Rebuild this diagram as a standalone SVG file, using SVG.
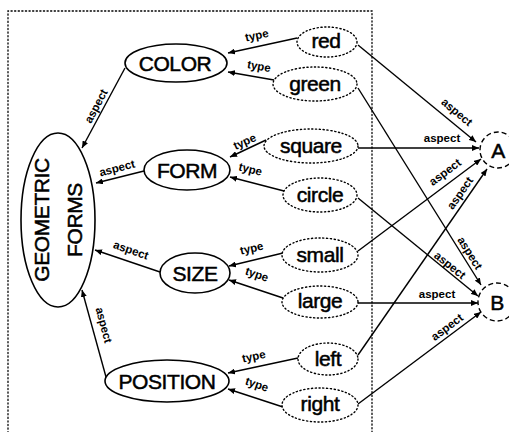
<svg xmlns="http://www.w3.org/2000/svg" width="509" height="432" viewBox="0 0 509 432">
  <defs>
    <marker id="arr" markerUnits="userSpaceOnUse" markerWidth="7" markerHeight="6" refX="7" refY="3" orient="auto">
      <path d="M0,0 L7,3 L0,6 z" fill="#000"/>
    </marker>
    <style>
      .cat { fill: #fff; stroke: #000; stroke-width: 1.6; }
      .val { fill: #fff; stroke: #000; stroke-width: 1.4; stroke-dasharray: 1.2 2.6; stroke-linecap: round; }
      .obj { fill: #fff; stroke: #000; stroke-width: 1.4; stroke-dasharray: 5 3; }
      .edge { stroke: #000; stroke-width: 1.4; fill: none; marker-end: url(#arr); }
      .frame { fill: none; stroke: #000; stroke-width: 1.3; stroke-dasharray: 1.2 2.4; stroke-linecap: round; }
      .lbl { font-family: "Liberation Sans", Arial, sans-serif; font-size: 21px; fill: #000; stroke: #000; stroke-width: 0.5; letter-spacing: -0.4px; text-anchor: middle; }
      .tiny { font-family: "Liberation Sans", Arial, sans-serif; font-size: 11.5px; font-weight: bold; fill: #000; text-anchor: middle; }
    </style>
  </defs>

  <rect width="509" height="432" fill="#fff"/>

  <!-- dotted frame around the concept hierarchy -->
  <path class="frame" d="M8,440 L8,11 L372,11 L372,440"/>

  <g id="connectors">
    <!-- type links: value -> category -->
    <line class="edge" x1="297" y1="38" x2="228" y2="53"/>
    <line class="edge" x1="274" y1="80" x2="228" y2="72"/>
    <line class="edge" x1="266" y1="140" x2="230" y2="157"/>
    <line class="edge" x1="284" y1="191" x2="230" y2="177"/>
    <line class="edge" x1="283" y1="253" x2="229" y2="266"/>
    <line class="edge" x1="283" y1="298" x2="229" y2="280"/>
    <line class="edge" x1="298" y1="358" x2="228" y2="373"/>
    <line class="edge" x1="283" y1="407" x2="228" y2="389"/>
    <!-- aspect links: category -> geometric forms -->
    <line class="edge" x1="125" y1="68" x2="82" y2="148"/>
    <line class="edge" x1="144" y1="171" x2="96" y2="183"/>
    <line class="edge" x1="160" y1="272" x2="95" y2="250"/>
    <line class="edge" x1="106" y1="377" x2="82" y2="290"/>
    <!-- aspect links: value -> object -->
    <line class="edge" x1="358" y1="45" x2="476" y2="142"/>
    <line class="edge" x1="358" y1="88" x2="481" y2="285"/>
    <line class="edge" x1="358" y1="148" x2="479" y2="148"/>
    <line class="edge" x1="358" y1="198" x2="478" y2="296"/>
    <line class="edge" x1="358" y1="251" x2="481" y2="159"/>
    <line class="edge" x1="358" y1="303" x2="478" y2="303"/>
    <line class="edge" x1="358" y1="355" x2="487" y2="169"/>
    <line class="edge" x1="358" y1="404" x2="481" y2="312"/>

    <!-- link labels -->
    <g class="tiny">
      <text transform="translate(258,41) rotate(-12)" dy="-2">type</text>
      <text transform="translate(258,72) rotate(10)" dy="-2">type</text>
      <text transform="translate(247,147) rotate(-24)" dy="-2">type</text>
      <text transform="translate(249,175) rotate(14)" dy="-2">type</text>
      <text transform="translate(253,254) rotate(-13)" dy="-2">type</text>
      <text transform="translate(255,280) rotate(19)" dy="-2">type</text>
      <text transform="translate(255,362) rotate(-12)" dy="-2">type</text>
      <text transform="translate(255,390) rotate(19)" dy="-2">type</text>

      <text transform="translate(96,106) rotate(-62)" dy="4">aspect</text>
      <text transform="translate(117,168) rotate(-15)" dy="4">aspect</text>
      <text transform="translate(131,250) rotate(19)" dy="4">aspect</text>
      <text transform="translate(104,325) rotate(75)" dy="4">aspect</text>

      <text transform="translate(457,112) rotate(40)" dy="4">aspect</text>
      <text transform="translate(442,138)" dy="4">aspect</text>
      <text transform="translate(445,172) rotate(-37)" dy="4">aspect</text>
      <text transform="translate(460,193) rotate(-55)" dy="4">aspect</text>
      <text transform="translate(470,253) rotate(58)" dy="4">aspect</text>
      <text transform="translate(450,265) rotate(39)" dy="4">aspect</text>
      <text transform="translate(437,294)" dy="4">aspect</text>
      <text transform="translate(447,327) rotate(-37)" dy="4">aspect</text>
    </g>
  </g>

  <g id="geometric-forms">
    <ellipse class="cat" cx="58" cy="220" rx="37" ry="87"/>
    <text class="lbl" transform="translate(49,220) rotate(-90)">GEOMETRIC</text>
    <text class="lbl" transform="translate(82,220) rotate(-90)">FORMS</text>
  </g>

  <g id="color">
    <ellipse class="cat" cx="176" cy="63" rx="51" ry="19"/>
    <text class="lbl" x="175" y="71">COLOR</text>
  </g>
  <g id="form">
    <ellipse class="cat" cx="187" cy="170" rx="43" ry="20"/>
    <text class="lbl" x="187" y="178">FORM</text>
  </g>
  <g id="size">
    <ellipse class="cat" cx="195" cy="273" rx="35" ry="20"/>
    <text class="lbl" x="195" y="281">SIZE</text>
  </g>
  <g id="position">
    <ellipse class="cat" cx="167" cy="381" rx="62" ry="21"/>
    <text class="lbl" x="167" y="389">POSITION</text>
  </g>

  <g id="red">
    <ellipse class="val" cx="327" cy="42" rx="30" ry="15"/>
    <text class="lbl" x="326" y="48">red</text>
  </g>
  <g id="green">
    <ellipse class="val" cx="315" cy="84" rx="42" ry="17"/>
    <text class="lbl" x="315" y="91">green</text>
  </g>
  <g id="square">
    <ellipse class="val" cx="311" cy="146" rx="47" ry="17"/>
    <text class="lbl" x="311" y="153">square</text>
  </g>
  <g id="circle">
    <ellipse class="val" cx="320" cy="195" rx="37" ry="17"/>
    <text class="lbl" x="320" y="202">circle</text>
  </g>
  <g id="small">
    <ellipse class="val" cx="320" cy="255" rx="38" ry="17"/>
    <text class="lbl" x="320" y="262">small</text>
  </g>
  <g id="large">
    <ellipse class="val" cx="320" cy="302" rx="38" ry="16"/>
    <text class="lbl" x="320" y="308">large</text>
  </g>
  <g id="left">
    <ellipse class="val" cx="328" cy="359" rx="30" ry="16"/>
    <text class="lbl" x="328" y="366">left</text>
  </g>
  <g id="right">
    <ellipse class="val" cx="320" cy="405" rx="38" ry="17"/>
    <text class="lbl" x="320" y="411">right</text>
  </g>

  <g id="A">
    <circle class="obj" cx="498" cy="150" r="18"/>
    <text class="lbl" x="498" y="158">A</text>
  </g>
  <g id="B">
    <circle class="obj" cx="497" cy="302" r="19"/>
    <text class="lbl" x="497" y="310">B</text>
  </g>
</svg>
